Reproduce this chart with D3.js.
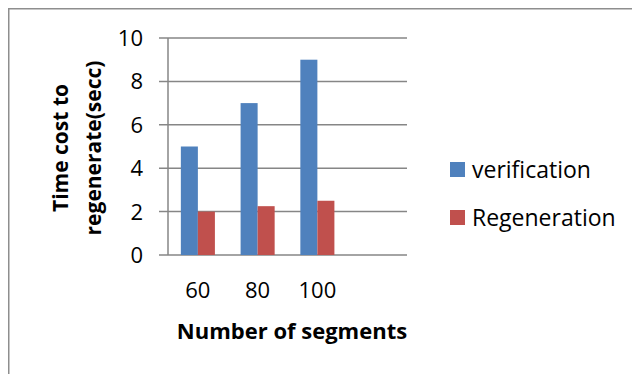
<!DOCTYPE html>
<html>
<head>
<meta charset="utf-8">
<script src="https://cdn.jsdelivr.net/npm/d3@7"></script>
<style>
  html, body { margin: 0; padding: 0; background: #fff; }
  svg { display: block; font-family: "Open Sans", sans-serif; }
</style>
</head>
<body>
<div id="chart"></div>
<script>
// Chart data
const categories = ["60", "80", "100", ""];
const seriesNames = ["verification", "Regeneration"];
const verification = [5, 7, 9];
const regeneration = [2, 2.25, 2.5];
const yTicks = [0, 2, 4, 6, 8, 10];

const colors = { verification: "#4F81BD", Regeneration: "#C0504D" };

const width = 632;
const height = 374;

// plot area
const plot = { left: 168, right: 407, top: 38, bottom: 255 };

const svg = d3.select("#chart")
  .append("svg")
  .attr("width", width)
  .attr("height", height);

// outer chart border
svg.append("rect")
  .attr("x", 8.75)
  .attr("y", 8.75)
  .attr("width", 700)
  .attr("height", 500)
  .attr("fill", "none")
  .attr("stroke", "#8e8e8e")
  .attr("stroke-width", 1.5);

const x = d3.scaleBand()
  .domain(categories)
  .range([plot.left, plot.right])
  .paddingInner(0.43)
  .paddingOuter(0.215);

const xSeries = d3.scaleBand()
  .domain(seriesNames)
  .range([0, x.bandwidth()]);

const y = d3.scaleLinear()
  .domain([0, 10])
  .range([plot.bottom, plot.top]);

// gridlines with ticks to the left of the axis
svg.append("g")
  .selectAll("line")
  .data(yTicks)
  .join("line")
  .attr("x1", plot.left - 9)
  .attr("x2", plot.right)
  .attr("y1", (d) => y(d))
  .attr("y2", (d) => y(d))
  .attr("stroke", "#868686")
  .attr("stroke-width", 1.5);

// y tick labels
svg.append("g")
  .selectAll("text")
  .data(yTicks)
  .join("text")
  .attr("x", plot.left - 25)
  .attr("y", (d) => y(d))
  .attr("dy", "0.36em")
  .attr("text-anchor", "end")
  .style("font-size", "22px")
  .attr("fill", "#000")
  .text((d) => d);

// bars
const rows = categories.slice(0, verification.length).map((c, i) => ({
  cat: c,
  values: [
    { name: "verification", value: verification[i] },
    { name: "Regeneration", value: regeneration[i] },
  ],
}));

const groups = svg.append("g")
  .selectAll("g")
  .data(rows)
  .join("g")
  .attr("transform", (d) => `translate(${x(d.cat)},0)`);

groups.selectAll("rect")
  .data((d) => d.values)
  .join("rect")
  .attr("x", (d) => xSeries(d.name))
  .attr("y", (d) => y(d.value))
  .attr("width", xSeries.bandwidth())
  .attr("height", (d) => y(0) - y(d.value))
  .attr("fill", (d) => colors[d.name]);

// vertical axis line
svg.append("line")
  .attr("x1", plot.left)
  .attr("x2", plot.left)
  .attr("y1", plot.top)
  .attr("y2", plot.bottom)
  .attr("stroke", "#868686")
  .attr("stroke-width", 1.5);

// category labels
svg.append("g")
  .selectAll("text")
  .data(categories)
  .join("text")
  .attr("x", (d) => x(d) + x.bandwidth() / 2)
  .attr("y", 298)
  .attr("text-anchor", "middle")
  .style("font-size", "22px")
  .attr("fill", "#000")
  .text((d) => d);

// x axis title
svg.append("text")
  .attr("x", 292)
  .attr("y", 339)
  .attr("text-anchor", "middle")
  .style("font-size", "22px")
  .style("font-weight", "bold")
  .text("Number of segments");

// y axis title, two lines
const yTitle = svg.append("text")
  .attr("transform", "translate(0,148) rotate(-90)")
  .attr("text-anchor", "middle")
  .style("font-size", "21px")
  .style("font-weight", "bold");
yTitle.append("tspan").attr("x", 0).attr("y", 68).text("Time cost to");
yTitle.append("tspan").attr("x", 0).attr("y", 101).text("regenerate(secc)");

// legend
const legend = svg.append("g")
  .selectAll("g")
  .data(seriesNames)
  .join("g")
  .attr("transform", (d, i) => `translate(450,${162 + i * 48})`);

legend.append("rect")
  .attr("width", 15)
  .attr("height", 15)
  .attr("fill", (d) => colors[d]);

legend.append("text")
  .attr("x", 22)
  .attr("y", 15.5)
  .style("font-size", "23px")
  .attr("fill", "#000")
  .text((d) => d);
</script>
</body>
</html>
